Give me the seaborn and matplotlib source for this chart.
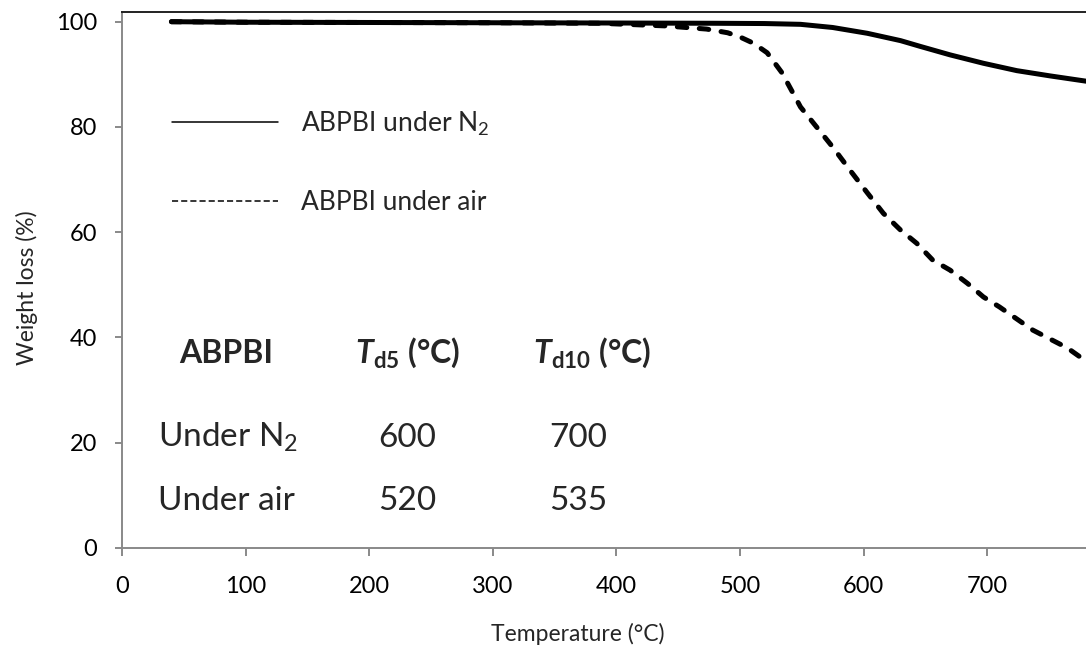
import matplotlib
matplotlib.use("Agg")
import matplotlib.pyplot as plt
import seaborn as sns
import pandas as pd
from matplotlib.lines import Line2D

# ---- data ----
temp_n2 = [40, 100, 200, 300, 400, 480, 520, 549, 575, 603, 630, 646, 670, 697, 724, 751, 780]
wt_n2 = [100.0, 99.9, 99.85, 99.8, 99.75, 99.7, 99.65, 99.5, 98.9, 97.8, 96.4, 95.3, 93.7, 92.1, 90.7, 89.7, 88.7]

temp_air = [40, 100, 200, 300, 387, 440, 473, 490, 500, 511, 522, 534, 549, 575, 589, 603, 616,
            630, 643, 656, 670, 684, 697, 710, 737, 765, 780]
wt_air = [100.0, 99.9, 99.85, 99.8, 99.7, 99.2, 98.6, 97.9, 97.1, 95.9, 94.1, 90.3, 83.8, 76.2,
          71.8, 67.5, 63.6, 60.4, 57.9, 54.7, 52.8, 50.3, 47.7, 45.8, 41.4, 38.0, 35.5]

series_labels = ["ABPBI under $\\mathregular{N_2}$", "ABPBI under air"]

table_header = ["ABPBI", "$\\mathbfit{T}_{\\mathbf{d5}}$ (°C)", "$\\mathbfit{T}_{\\mathbf{d10}}$ (°C)"]
table_rows = ["Under $\\mathregular{N_2}$", "Under air"]
td5 = [600, 520]
td10 = [700, 535]

x_ticks = [0, 100, 200, 300, 400, 500, 600, 700]
y_ticks = [0, 20, 40, 60, 80, 100]

# ---- style ----
sns.set_style("white")
plt.rcParams["font.family"] = ["Lato", "DejaVu Sans"]
plt.rcParams["mathtext.fontset"] = "custom"
plt.rcParams["mathtext.rm"] = "Lato"
plt.rcParams["mathtext.it"] = "Lato:italic"
plt.rcParams["mathtext.bf"] = "Lato:bold"
try:
    plt.rcParams["mathtext.bfit"] = "Lato:italic:bold"
except KeyError:
    pass

GRAY = "#898989"

fig = plt.figure(figsize=(10.86, 6.47), dpi=100)
ax = fig.add_axes([122 / 1086, 99 / 647, 964 / 1086, 536.3 / 647])

df_n2 = pd.DataFrame({"Temperature": temp_n2, "Weight": wt_n2})
df_air = pd.DataFrame({"Temperature": temp_air, "Weight": wt_air})

sns.lineplot(data=df_n2, x="Temperature", y="Weight", ax=ax, color="black",
             linewidth=3.6, solid_capstyle="round", sort=False)
sns.lineplot(data=df_air, x="Temperature", y="Weight", ax=ax, color="black",
             linewidth=3.6, dashes=False, sort=False)
air_line = ax.lines[-1]
air_line.set_dashes((1.9, 2.5))
air_line.set_dash_capstyle("round")

ax.set_xlim(0, 780)
ax.set_ylim(0, 101.9)
ax.set_xticks(x_ticks)
ax.set_yticks(y_ticks)

for side in ["left", "bottom"]:
    ax.spines[side].set_color(GRAY)
    ax.spines[side].set_linewidth(1.4)
ax.spines["top"].set_color("#222222")
ax.spines["top"].set_linewidth(1.4)
ax.spines["right"].set_visible(False)

ax.tick_params(axis="x", direction="out", length=6, width=1.4, color=GRAY,
               pad=14, labelsize=17, labelcolor="black", bottom=True)
ax.tick_params(axis="y", direction="out", length=5, width=1.4, color=GRAY,
               pad=13, labelsize=17, labelcolor="black", left=True)

ax.set_xlabel("Temperature (°C)", fontsize=16.5)
ax.set_ylabel("Weight loss (%)", fontsize=16.5)
ax.xaxis.set_label_coords(0.4725, -0.14)
ax.yaxis.set_label_coords(-0.087, 0.485)

# legend with thin keys
handles = [Line2D([], [], color="black", lw=1.1),
           Line2D([], [], color="black", lw=1.1, dashes=(4, 2))]
leg = ax.legend(handles, series_labels, loc="upper left",
                bbox_to_anchor=(0.052, 0.818), frameon=False, fontsize=19,
                handlelength=4.0, handletextpad=0.9, labelspacing=2.0,
                borderpad=0, borderaxespad=0)

# inset table text (data coordinates)
hdr_x = [84.2, 231, 380]
for x, s in zip(hdr_x, table_header):
    ax.text(x, 35.15, s, ha="center", va="baseline", fontsize=23, fontweight="bold")
row_y = [19.2, 7.2]
for y, lab, a, b in zip(row_y, table_rows, td5, td10):
    ax.text(29, y, lab, ha="left", va="baseline", fontsize=24)
    ax.text(230.6, y, str(a), ha="center", va="baseline", fontsize=24)
    ax.text(369, y, str(b), ha="center", va="baseline", fontsize=24)

fig.savefig("out.png", dpi=100)
